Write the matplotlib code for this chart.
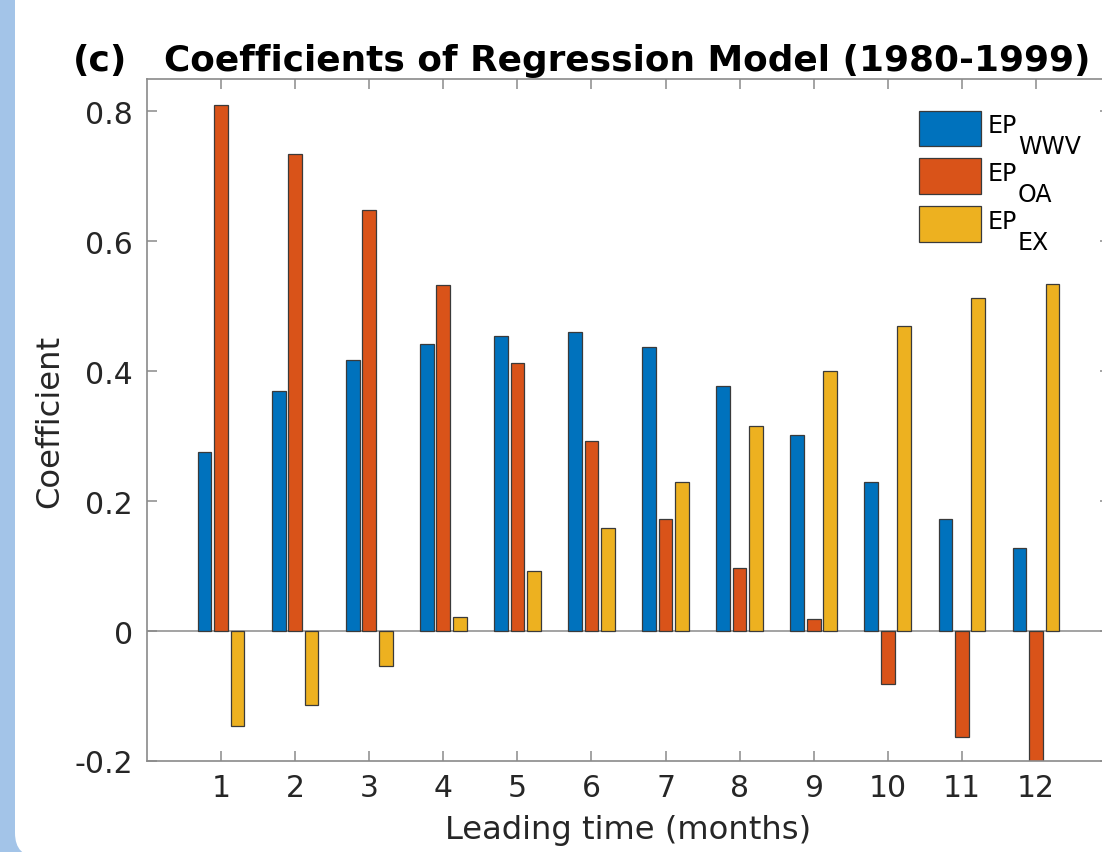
import matplotlib
matplotlib.use("Agg")
import matplotlib.pyplot as plt
import numpy as np
from matplotlib.patches import FancyBboxPatch
from matplotlib.transforms import IdentityTransform

# ---- data ----
months = [1, 2, 3, 4, 5, 6, 7, 8, 9, 10, 11, 12]
ep_wwv = [0.275, 0.369, 0.418, 0.442, 0.454, 0.460, 0.437, 0.378, 0.302, 0.230, 0.172, 0.128]
ep_oa = [0.810, 0.735, 0.648, 0.533, 0.413, 0.292, 0.172, 0.097, 0.018, -0.082, -0.163, -0.240]
ep_ex = [-0.146, -0.114, -0.053, 0.022, 0.093, 0.158, 0.229, 0.315, 0.401, 0.470, 0.513, 0.535]
series_names = ["EP", "EP", "EP"]
series_subs = ["WWV", "OA", "EX"]
yticks = [-0.2, 0, 0.2, 0.4, 0.6, 0.8]
ytick_labels = ["-0.2", "0", "0.2", "0.4", "0.6", "0.8"]

colors = ["#0072BD", "#D95319", "#EDB120"]
W, H = 1102, 853
fig = plt.figure(figsize=(W / 100, H / 100), dpi=100)
fig.patch.set_facecolor("#a3c4e8")

# white rounded panel (pixel coordinates)
panel = FancyBboxPatch((15, -5), W + 60, H + 60, boxstyle="round,pad=0,rounding_size=24",
                       transform=IdentityTransform(), facecolor="white", edgecolor="none", zorder=-5)
fig.patches.append(panel)

ax_l, ax_r, ax_t, ax_b = 147, 1110, 80, 762
ax = fig.add_axes([ax_l / W, (H - ax_b) / H, (ax_r - ax_l) / W, (ax_b - ax_t) / H])
ax.set_zorder(1)
ax.set_facecolor("white")

x = np.array(months, dtype=float)
slot = 2 / 9
bw = 0.185
data = [ep_wwv, ep_oa, ep_ex]
bars = []
for i, (vals, c) in enumerate(zip(data, colors)):
    b = ax.bar(x + (i - 1) * slot, vals, width=bw, color=c, edgecolor="#3a3a3a",
               linewidth=0.9, zorder=2)
    bars.append(b)

ax.axhline(0, color="#8a8a8a", lw=1.1, zorder=1)
ax.set_xlim(0, 13)
ax.set_ylim(-0.2, 0.85)
ax.set_xticks(months)
ax.set_xticklabels([str(m) for m in months])
ax.set_yticks(yticks)
ax.set_yticklabels(ytick_labels)

for s in ax.spines.values():
    s.set_color("#8a8a8a")
    s.set_linewidth(1.2)
ax.tick_params(direction="in", length=7, width=1.1, color="#8a8a8a",
               labelsize=21.5, labelcolor="#262626", top=True, right=True)
ax.tick_params(axis="y", pad=10)
ax.tick_params(axis="x", pad=9)

ax.set_xlabel("Leading time (months)", fontsize=23.2, color="#262626", labelpad=8)
ax.set_ylabel("Coefficient", fontsize=23.2, color="#262626", labelpad=7)

# title
fig.text(627 / W, (H - 71) / H, "Coefficients of Regression Model (1980-1999)",
         fontsize=25.8, fontweight="bold", ha="center", va="baseline", color="black", zorder=3)
fig.text(73 / W, (H - 71) / H, "(c)", fontsize=26, fontweight="bold",
         ha="left", va="baseline", color="black", zorder=3)

# legend (handles from the library; labels drawn with full-size subscripts)
leg = ax.legend(bars, ["", "", ""], loc="upper left",
                bbox_to_anchor=((909 - ax_l) / (ax_r - ax_l), 1 - (102 - ax_t) / (ax_b - ax_t)),
                frameon=False, fontsize=17.5, handlelength=2.55, handleheight=1.87,
                handletextpad=0.3, labelspacing=0.5, borderaxespad=0)
fig.canvas.draw()
renderer = fig.canvas.get_renderer()
for h, name, sub in zip(leg.legend_handles, series_names, series_subs):
    bb = h.get_window_extent(renderer)
    base = bb.y1 - 21.5
    ep = fig.text((bb.x1 + 7) / W, base / H, name, fontsize=17, color="black",
                  ha="left", va="baseline", zorder=3)
    eb = ep.get_window_extent(renderer)
    fig.text((eb.x1 + 1) / W, (base - 21) / H, sub, fontsize=17, color="black",
             ha="left", va="baseline", zorder=3)

fig.savefig("out.png", dpi=100, facecolor=fig.get_facecolor())
